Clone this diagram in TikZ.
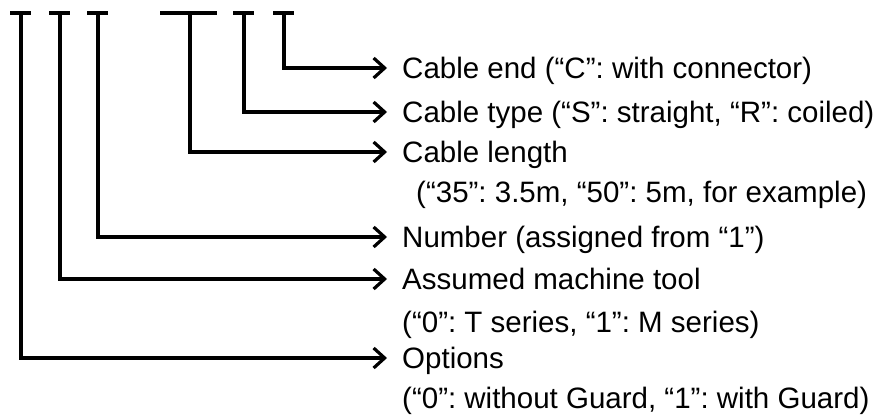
\documentclass[tikz,border=0pt]{standalone}
\usepackage{fontspec}
\setmainfont{Liberation Sans}
\usetikzlibrary{arrows.meta,positioning}
\frenchspacing

\begin{document}
\begin{tikzpicture}[x=1pt, y=-1pt,
    bar/.style={line width=3.4pt},
    lead/.style={line width=3.2pt, -{Straight Barb[length=11pt,width=20pt]}},
    item/.style={anchor=west, inner xsep=15pt, inner ysep=0pt, text height=21.1pt, text depth=0pt,
                 font=\fontsize{29.5}{34}\selectfont}]
            \useasboundingbox (0,0) rectangle (889,415);

            \coordinate (t1) at (21, 13);
            \coordinate (t2) at (60, 13);
            \coordinate (t3) at (98, 13);
            \coordinate (t4) at (190, 13);
            \coordinate (t5) at (244, 13);
            \coordinate (t6) at (284, 13);

            \draw[bar] (10, 13) -- (31, 13);
            \draw[bar] (49, 13) -- (70, 13);
            \draw[bar] (87, 13) -- (108, 13);
            \draw[bar] (160, 13) -- (217, 13);
            \draw[bar] (233, 13) -- (254, 13);
            \draw[bar] (273, 13) -- (294, 13);

            \node[item] (cend) at (387, 68) {Cable end (“C”: with connector)};
            \node[item] (ctype) at (387, 112) {Cable type (“S”: straight, “R”: coiled)};
            \node[item] (clen) at (387, 152) {Cable length};
            \node[item] (clen2) at (401, 192) {(“35”: 3.5m, “50”: 5m, for example)};
            \node[item] (num) at (387, 237) {Number (assigned from “1”)};
            \node[item] (tool) at (387, 279) {Assumed machine tool};
            \node[item] (tool2) at (387, 322) {(“0”: T series, “1”: M series)};
            \node[item] (opt) at (387, 358) {Options};
            \node[item] (opt2) at (387, 398) {(“0”: without Guard, “1”: with Guard)};

            % Define the leads
            \draw[lead] (t6) |- (cend.west);
            \draw[lead] (t5) |- (ctype.west);
            \draw[lead] (t4) |- (clen.west);
            \draw[lead] (t3) |- (num.west);
            \draw[lead] (t2) |- (tool.west);
            \draw[lead] (t1) |- (opt.west);
\end{tikzpicture}
\end{document}
